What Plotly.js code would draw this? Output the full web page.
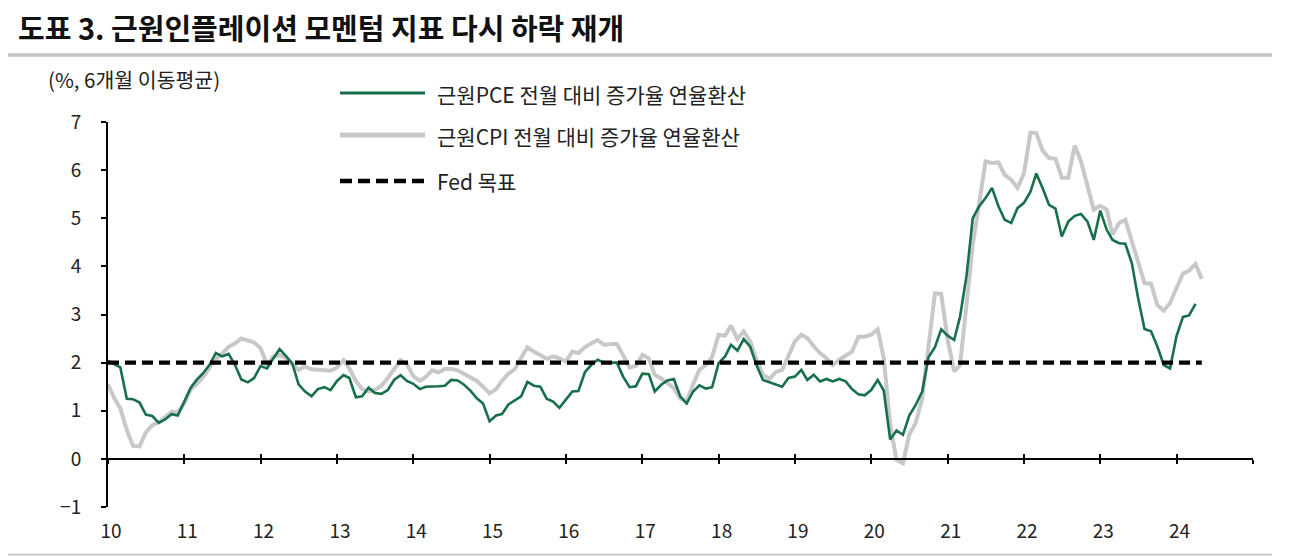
<!DOCTYPE html>
<html>
<head>
<meta charset="utf-8">
<script src="https://cdn.plot.ly/plotly-3.0.1.min.js"></script>
<style>
  html, body { margin: 0; padding: 0; background: #ffffff; }
  #chart { width: 1307px; height: 556px; }
</style>
</head>
<body>
<div id="chart"></div>
<script>
// ---------------- DATA ----------------
const chartTitle = '도표 3. 근원인플레이션 모멘텀 지표 다시 하락 재개';
const unitLabel = '(%, 6개월 이동평균)';
const seriesNames = ['근원PCE 전월 대비 증가율 연율환산', '근원CPI 전월 대비 증가율 연율환산', 'Fed 목표'];

const startYear = 2010;
const yearLabels = ['10','11','12','13','14','15','16','17','18','19','20','21','22','23','24'];

// Core PCE, m/m annualised, 6-month moving average (%), monthly from Jan 2010
const corePCE = [
  2.04,1.97,1.90,1.25,1.24,1.17,0.92,0.89,0.75,0.82,0.93,0.90,
  1.20,1.48,1.64,1.78,1.95,2.20,2.13,2.18,1.95,1.65,1.59,1.68,
  1.93,1.88,2.08,2.28,2.14,1.98,1.55,1.40,1.30,1.45,1.49,1.43,
  1.62,1.74,1.68,1.28,1.30,1.48,1.37,1.35,1.43,1.64,1.74,1.62,
  1.56,1.45,1.50,1.50,1.51,1.52,1.64,1.63,1.54,1.42,1.26,1.15,
  0.78,0.90,0.93,1.13,1.22,1.30,1.60,1.52,1.50,1.25,1.19,1.06,
  1.23,1.40,1.41,1.80,1.95,2.06,2.00,2.00,2.00,1.71,1.49,1.51,
  1.77,1.76,1.40,1.54,1.63,1.66,1.30,1.15,1.40,1.53,1.46,1.49,
  1.99,2.13,2.37,2.25,2.49,2.33,1.95,1.64,1.59,1.54,1.50,1.68,
  1.71,1.85,1.64,1.75,1.61,1.66,1.61,1.66,1.61,1.45,1.34,1.32,
  1.43,1.64,1.42,0.40,0.59,0.50,0.90,1.12,1.40,2.11,2.32,2.69,
  2.56,2.47,2.95,3.80,5.00,5.25,5.42,5.63,5.25,4.97,4.90,5.21,
  5.32,5.55,5.93,5.62,5.28,5.20,4.62,4.93,5.05,5.09,4.93,4.55,
  5.16,4.76,4.55,4.48,4.47,4.07,3.35,2.70,2.65,2.34,1.95,1.88,
  2.55,2.95,2.98,3.22,null
];

// Core CPI, m/m annualised, 6-month moving average (%), monthly from Jan 2010
const coreCPI = [
  1.55,1.25,1.05,0.60,0.27,0.26,0.55,0.70,0.76,0.86,0.98,0.97,
  1.15,1.45,1.55,1.70,1.90,2.08,2.18,2.33,2.40,2.50,2.46,2.42,
  2.30,1.95,2.12,2.16,2.10,1.98,1.85,1.92,1.86,1.85,1.83,1.83,
  1.90,2.05,1.88,1.62,1.45,1.40,1.43,1.52,1.68,1.86,2.05,1.97,
  1.72,1.62,1.70,1.84,1.80,1.87,1.87,1.84,1.76,1.70,1.62,1.50,
  1.36,1.45,1.62,1.77,1.86,2.10,2.32,2.23,2.16,2.08,2.13,2.09,
  2.02,2.23,2.20,2.32,2.40,2.47,2.37,2.39,2.39,2.15,1.90,1.93,
  2.16,2.09,1.75,1.67,1.57,1.47,1.25,1.20,1.55,1.85,1.95,2.12,
  2.58,2.56,2.77,2.49,2.65,2.44,2.06,1.75,1.66,1.80,1.85,2.16,
  2.44,2.58,2.51,2.34,2.20,2.09,1.95,2.06,2.15,2.23,2.54,2.54,
  2.58,2.69,2.10,0.70,-0.02,-0.09,0.50,0.75,1.25,2.30,3.44,3.43,
  2.47,1.82,1.95,3.20,4.45,5.32,6.18,6.15,6.16,5.90,5.80,5.63,
  5.93,6.78,6.77,6.40,6.25,6.24,5.84,5.84,6.51,6.18,5.70,5.18,
  5.26,5.18,4.66,4.90,4.97,4.52,4.07,3.65,3.64,3.20,3.08,3.24,
  3.55,3.85,3.91,4.05,3.74
];

const fedTarget = 2;

// ---------------- BUILD ----------------
function pad2(n) { return (n < 10 ? '0' : '') + n; }
const months = coreCPI.map((_, i) => (startYear + Math.floor(i / 12)) + '-' + pad2(i % 12 + 1) + '-01');
const yearTickVals = yearLabels.map((_, i) => (startYear + i) + '-01-01');
const axisTickVals = yearTickVals.concat([(startYear + yearLabels.length) + '-01-01']);
const xRange = [yearTickVals[0], axisTickVals[axisTickVals.length - 1]];

const W = 1307, H = 556, L = 108, R = 54, T = 122, B = 49;
const pw = W - L - R, ph = H - T - B;
const px2x = px => (px - L) / pw;
const py2y = py => (H - B - py) / ph;

const GREEN = '#17704a';
const GREY = '#c8c8c8';
const FONT = 'Noto Sans CJK KR, Noto Sans, sans-serif';
const TXT = '#222222';

const traces = [
  { x: months, y: coreCPI, type: 'scatter', mode: 'lines', name: seriesNames[1],
    line: { color: GREY, width: 4 }, xaxis: 'x', yaxis: 'y', hoverinfo: 'skip' },
  { x: months, y: corePCE, type: 'scatter', mode: 'lines', name: seriesNames[0],
    line: { color: GREEN, width: 2.6 }, xaxis: 'x', yaxis: 'y', hoverinfo: 'skip' },
  { x: [months[0], months[months.length - 1]], y: [fedTarget, fedTarget], type: 'scatter', mode: 'lines',
    name: seriesNames[2], line: { color: '#000000', width: 4.2, dash: '11px,6px' },
    xaxis: 'x2', yaxis: 'y', hoverinfo: 'skip' },
  { x: [months[0]], y: [null], type: 'scatter', mode: 'lines', showlegend: false,
    xaxis: 'x3', yaxis: 'y', hoverinfo: 'skip' }
];

const tickAxisBase = {
  type: 'date', range: xRange, overlaying: 'x', anchor: 'free', position: 0.125,
  showline: true, linecolor: '#000', linewidth: 2,
  tickmode: 'array', tickvals: axisTickVals, ticklen: 4, tickwidth: 2, tickcolor: '#000',
  showticklabels: false, showgrid: false, zeroline: false, fixedrange: true
};

const layout = {
  width: W, height: H,
  margin: { l: L, r: R, t: T, b: B, pad: 0 },
  paper_bgcolor: '#ffffff', plot_bgcolor: '#ffffff',
  font: { family: FONT, color: TXT, size: 19 },
  showlegend: false,
  title: {
    text: chartTitle,
    font: { family: FONT, size: 29, weight: 700, color: '#111111' },
    xref: 'container', yref: 'container',
    x: 18 / W, xanchor: 'left',
    y: 1 - 30 / H, yanchor: 'middle'
  },
  xaxis: {
    type: 'date', range: xRange, anchor: 'y',
    tickmode: 'array', tickvals: yearTickVals, ticktext: yearLabels,
    ticks: '', showline: false, showgrid: false, zeroline: false,
    tickfont: { family: FONT, size: 19, color: TXT },
    ticklabelstandoff: 11, ticklabelshift: 3, fixedrange: true
  },
  xaxis2: Object.assign({}, tickAxisBase, { ticks: 'outside' }),
  xaxis3: Object.assign({}, tickAxisBase, { ticks: 'inside' }),
  yaxis: {
    range: [-1, 7], dtick: 1, tick0: 0,
    showline: true, linecolor: '#000', linewidth: 2,
    ticks: 'outside', ticklen: 5, tickwidth: 2, tickcolor: '#000',
    showgrid: false, zeroline: false,
    tickfont: { family: FONT, size: 19, color: TXT },
    ticklabelstandoff: 16, fixedrange: true
  },
  shapes: [
    { type: 'line', xref: 'paper', yref: 'paper', x0: px2x(8), x1: px2x(1272), y0: py2y(55), y1: py2y(55),
      line: { color: '#c4c4c4', width: 3.5 } },
    { type: 'line', xref: 'paper', yref: 'paper', x0: px2x(8), x1: px2x(1272), y0: py2y(554.5), y1: py2y(554.5),
      line: { color: '#c8c8c8', width: 2 } },
    { type: 'line', xref: 'paper', yref: 'paper', x0: px2x(340), x1: px2x(425), y0: py2y(93), y1: py2y(93),
      line: { color: GREEN, width: 3 } },
    { type: 'line', xref: 'paper', yref: 'paper', x0: px2x(340), x1: px2x(425), y0: py2y(135), y1: py2y(135),
      line: { color: GREY, width: 5 } },
    { type: 'line', xref: 'paper', yref: 'paper', x0: px2x(340), x1: px2x(425), y0: py2y(181), y1: py2y(181),
      line: { color: '#000', width: 4.5, dash: '12px,6px' } }
  ],
  annotations: [
    { text: unitLabel, xref: 'paper', yref: 'paper', x: px2x(46), y: py2y(79), xanchor: 'left', yanchor: 'middle',
      showarrow: false, font: { family: FONT, size: 20.5, color: TXT } },
    { text: seriesNames[0], xref: 'paper', yref: 'paper', x: px2x(435), y: py2y(94), xanchor: 'left', yanchor: 'middle',
      showarrow: false, font: { family: FONT, size: 21, color: TXT } },
    { text: seriesNames[1], xref: 'paper', yref: 'paper', x: px2x(435), y: py2y(136), xanchor: 'left', yanchor: 'middle',
      showarrow: false, font: { family: FONT, size: 21, color: TXT } },
    { text: seriesNames[2], xref: 'paper', yref: 'paper', x: px2x(435), y: py2y(181), xanchor: 'left', yanchor: 'middle',
      showarrow: false, font: { family: FONT, size: 21, color: TXT } }
  ]
};

Plotly.newPlot('chart', traces, layout, { staticPlot: true, displayModeBar: false });
</script>
</body>
</html>
